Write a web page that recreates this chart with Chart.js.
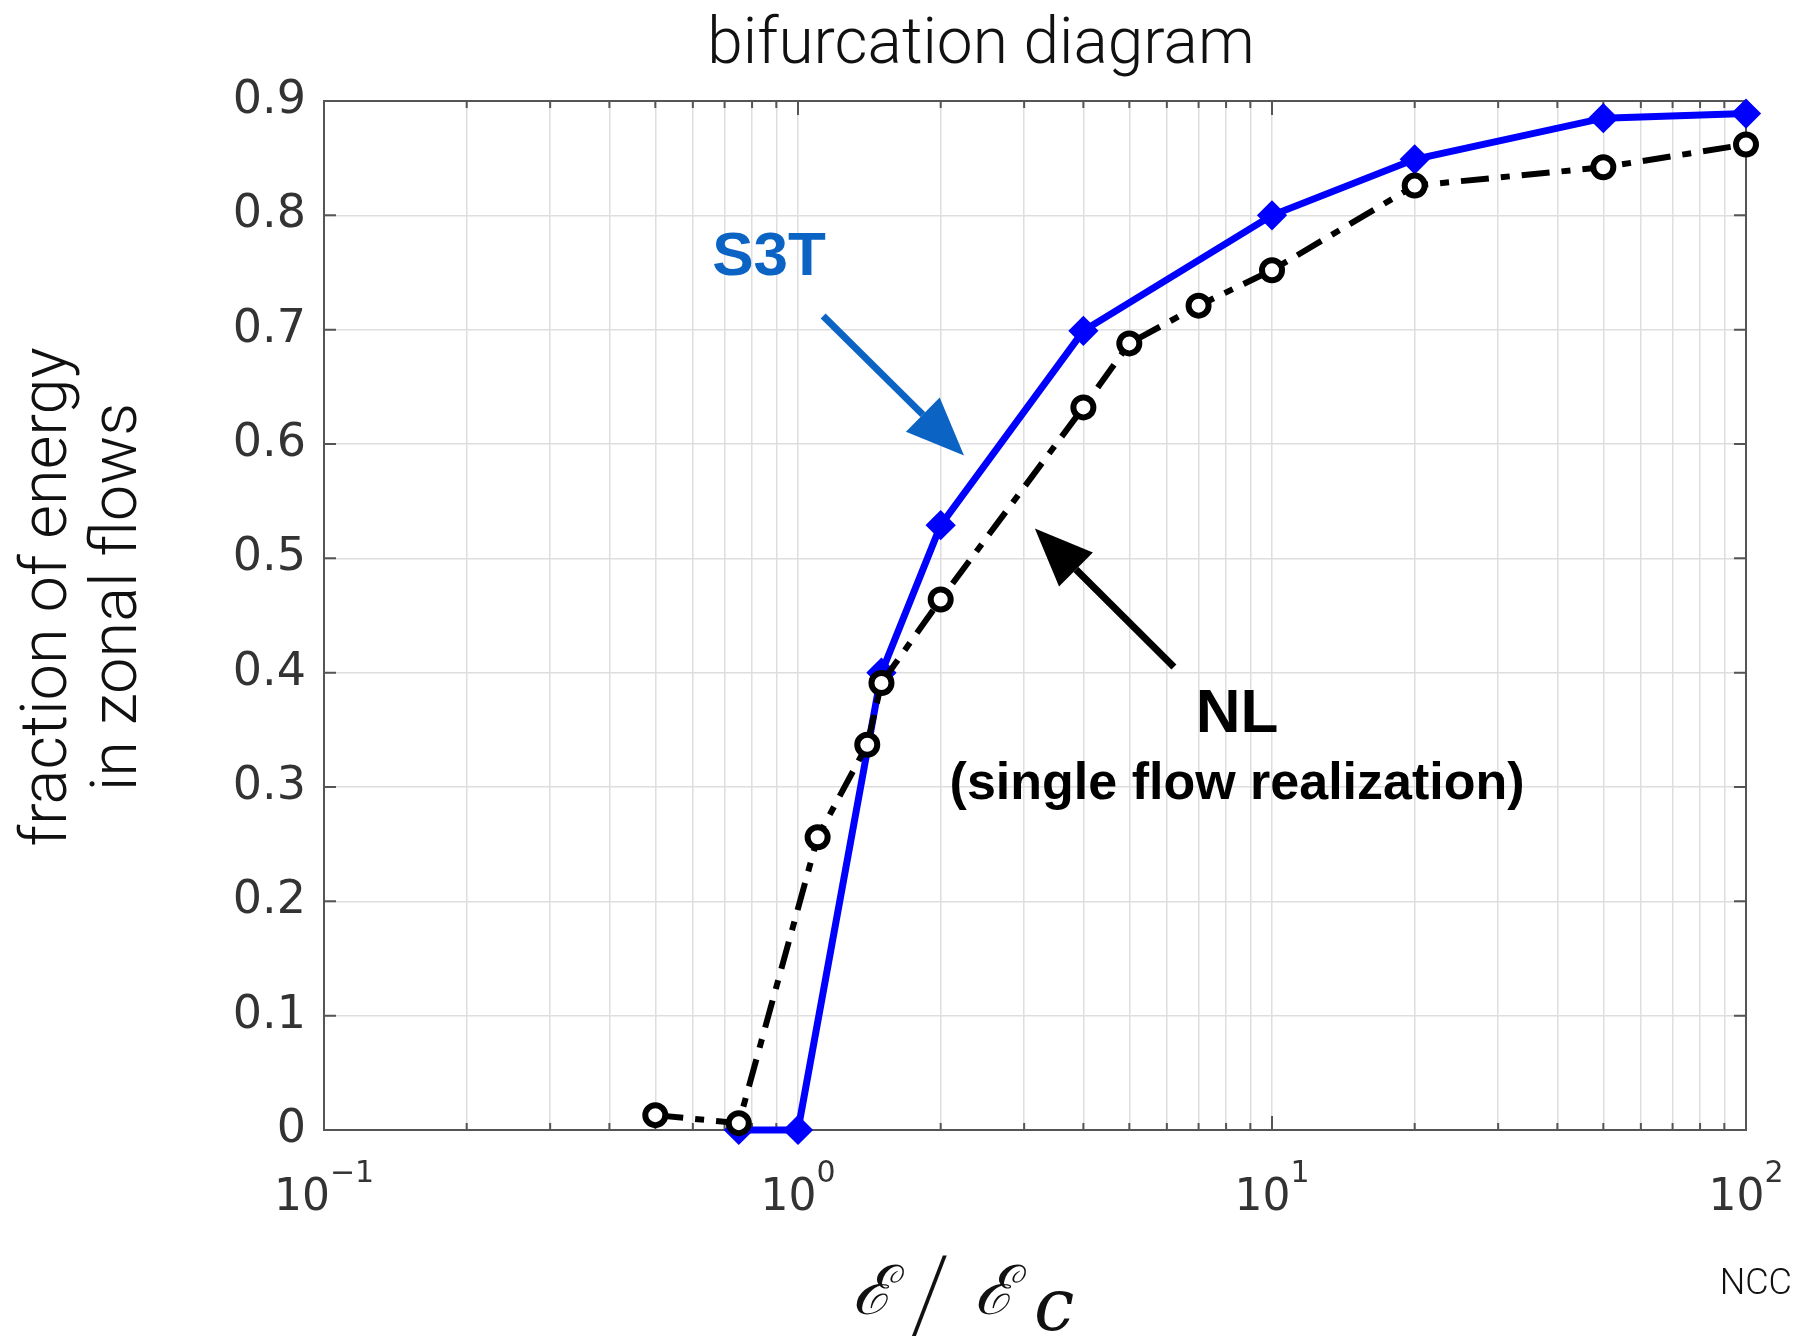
<!DOCTYPE html>
<html>
<head>
<meta charset="utf-8">
<script src="https://cdn.jsdelivr.net/npm/chart.js@4.4.1/dist/chart.umd.min.js"></script>
<style>
  html, body { margin: 0; padding: 0; background: #fff; }
  #wrap { width: 1793px; height: 1336px; }
</style>
</head>
<body>
<div id="wrap"><canvas id="chart" width="1793" height="1336"></canvas></div>
<script>
// ── Data ───────────────────────────────────────────────────────────────────
const S3T_X = [0.75, 1, 1.5, 2, 4, 10, 20, 50, 100];
const S3T_Y = [0, 0, 0.400, 0.529, 0.699, 0.800, 0.849, 0.885, 0.889];

const NL_X = [0.5, 0.75, 1.1, 1.4, 1.5, 2, 4, 5, 7, 10, 20, 50, 100];
const NL_Y = [0.013, 0.006, 0.256, 0.337, 0.391, 0.464, 0.632, 0.688, 0.721, 0.752, 0.826, 0.842, 0.862];

// axis ranges and ticks
const X_MIN = 0.1, X_MAX = 100;
const X_DECADES = [-1, 0, 1, 2];           // labelled as 10^n
const Y_TICKS = [0, 0.1, 0.2, 0.3, 0.4, 0.5, 0.6, 0.7, 0.8, 0.9];
const Y_TICK_LABELS = ["0", "0.1", "0.2", "0.3", "0.4", "0.5", "0.6", "0.7", "0.8", "0.9"];

// ── Styles ─────────────────────────────────────────────────────────────────
const AXIS_CLR  = "#555555";
const GRID_CLR  = "#dedede";
const TEXT_CLR  = "#333333";
const S3T_CLR   = "#0000ff";
const NOTE_BLUE = "#0b63c4";

// minor + major log grid positions (1..9 x 10^n)
function logGridValues() {
  const vals = [];
  for (let e = -1; e < 2; e++) {
    for (let m = 1; m < 10; m++) vals.push(m * Math.pow(10, e));
  }
  vals.push(X_MAX);
  return vals;
}

const toPoints = (xs, ys) => xs.map((x, i) => ({ x, y: ys[i] }));

// ── Frame plugin: box, inward ticks, tick labels, notes ───────────────────
const framePlugin = {
  id: "frame",
  beforeDatasetsDraw(chart) {
    const { ctx, chartArea: a, scales: { x, y } } = chart;
    ctx.save();
    ctx.strokeStyle = AXIS_CLR;
    ctx.lineWidth = 2;
    ctx.beginPath();
    // y ticks on left and right
    Y_TICKS.forEach(v => {
      const py = y.getPixelForValue(v);
      ctx.moveTo(a.left, py);  ctx.lineTo(a.left + 12, py);
      ctx.moveTo(a.right, py); ctx.lineTo(a.right - 12, py);
    });
    // x ticks on bottom and top
    logGridValues().forEach(v => {
      const px = x.getPixelForValue(v);
      const major = Math.abs(Math.log10(v) - Math.round(Math.log10(v))) < 1e-9;
      const len = major ? 14 : 7;
      ctx.moveTo(px, a.bottom); ctx.lineTo(px, a.bottom - len);
      ctx.moveTo(px, a.top);    ctx.lineTo(px, a.top + len);
    });
    ctx.stroke();
    ctx.strokeRect(a.left, a.top, a.right - a.left, a.bottom - a.top);
    ctx.restore();
  },
  afterDraw(chart) {
    const { ctx, chartArea: a, scales: { x, y } } = chart;
    ctx.save();
    ctx.fillStyle = TEXT_CLR;

    // y tick labels
    ctx.font = "46px 'DejaVu Sans'";
    ctx.textAlign = "right";
    ctx.textBaseline = "middle";
    Y_TICKS.forEach((v, i) => {
      ctx.fillText(Y_TICK_LABELS[i], a.left - 18, y.getPixelForValue(v));
    });

    // x tick labels 10^n with superscript
    ctx.textBaseline = "alphabetic";
    ctx.textAlign = "left";
    X_DECADES.forEach(e => {
      const px = x.getPixelForValue(Math.pow(10, e));
      const base = "10", sup = e < 0 ? "\u2212" + Math.abs(e) : String(e);
      ctx.font = "44px 'DejaVu Sans'";
      const wb = ctx.measureText(base).width;
      ctx.font = "30px 'DejaVu Sans'";
      const ws = ctx.measureText(sup).width;
      const x0 = px - (wb + ws) / 2;
      ctx.font = "44px 'DejaVu Sans'";
      ctx.fillText(base, x0, a.bottom + 80);
      ctx.font = "30px 'DejaVu Sans'";
      ctx.fillText(sup, x0 + wb, a.bottom + 52);
    });

    // title
    ctx.fillStyle = "#111";
    ctx.textAlign = "center";
    ctx.textBaseline = "middle";
    ctx.font = "300 64px Roboto";
    ctx.fillText("bifurcation diagram", 981, 47);

    // y axis label (two lines, rotated)
    ctx.save();
    ctx.translate(0, 597);
    ctx.rotate(-Math.PI / 2);
    ctx.font = "300 65px Roboto";
    ctx.fillText("fraction of energy", 0, 50);
    ctx.fillText("in zonal flows", 0, 120);
    ctx.restore();

    // x axis label  ℰ / ℰc
    ctx.textAlign = "left";
    ctx.textBaseline = "alphabetic";
    ctx.font = "italic 68px 'DejaVu Serif'";
    ctx.fillText("\u2130", 852, 1314);
    ctx.font = "200 104px Roboto";
    ctx.fillText("/", 910, 1330);
    ctx.font = "italic 68px 'DejaVu Serif'";
    ctx.fillText("\u2130", 974, 1314);
    ctx.font = "italic 72px 'DejaVu Serif'";
    ctx.fillText("c", 1034, 1330);

    // NCC
    ctx.textAlign = "right";
    ctx.font = "300 36px Roboto";
    ctx.fillText("NCC", 1792, 1294);

    // annotations
    const P = (vx, vy) => [x.getPixelForValue(vx), y.getPixelForValue(vy)];
    const arrow = (from, to, color) => {
      const [x1, y1] = P(...from), [x2, y2] = P(...to);
      const ang = Math.atan2(y2 - y1, x2 - x1);
      const hl = 58, hw = 24;
      const bx = x2 - hl * Math.cos(ang), by = y2 - hl * Math.sin(ang);
      ctx.strokeStyle = color; ctx.fillStyle = color;
      ctx.lineWidth = 7;
      ctx.beginPath(); ctx.moveTo(x1, y1); ctx.lineTo(bx, by); ctx.stroke();
      ctx.beginPath();
      ctx.moveTo(x2, y2);
      ctx.lineTo(bx + hw * Math.sin(ang), by - hw * Math.cos(ang));
      ctx.lineTo(bx - hw * Math.sin(ang), by + hw * Math.cos(ang));
      ctx.closePath(); ctx.fill();
    };
    arrow([1.13, 0.712], [2.24, 0.590], NOTE_BLUE);
    arrow([6.21, 0.405], [3.16, 0.526], "#000");

    ctx.textAlign = "center";
    ctx.textBaseline = "middle";
    ctx.fillStyle = NOTE_BLUE;
    ctx.font = "bold 62px 'Liberation Sans'";
    ctx.fillText("S3T", ...P(0.869, 0.763));
    ctx.fillStyle = "#000";
    ctx.fillText("NL", ...P(8.44, 0.363));
    ctx.font = "bold 52px 'Liberation Sans'";
    ctx.fillText("(single flow realization)", ...P(8.44, 0.302));
    ctx.restore();
  }
};

// ── Chart ──────────────────────────────────────────────────────────────────
new Chart(document.getElementById("chart"), {
  type: "line",
  data: {
    datasets: [
      {
        label: "NL",
        data: toPoints(NL_X, NL_Y),
        order: 0,
        borderColor: "#000",
        borderWidth: 6,
        borderDash: [28, 12, 9, 12],
        pointStyle: "circle",
        pointRadius: 10,
        pointBorderWidth: 6,
        pointBackgroundColor: "#fff",
        pointBorderColor: "#000",
        tension: 0,
        clip: false,
      },
      {
        label: "S3T",
        data: toPoints(S3T_X, S3T_Y),
        order: 1,
        borderColor: S3T_CLR,
        borderWidth: 7,
        pointStyle: "rectRot",
        pointRadius: 13,
        pointBorderWidth: 3,
        pointBackgroundColor: S3T_CLR,
        pointBorderColor: S3T_CLR,
        tension: 0,
        clip: false,
      },
    ],
  },
  options: {
    responsive: false,
    animation: false,
    devicePixelRatio: 1,
    layout: { padding: { left: 324, right: 47, top: 101, bottom: 206 } },
    plugins: { legend: { display: false }, tooltip: { enabled: false } },
    scales: {
      x: {
        type: "logarithmic",
        min: X_MIN, max: X_MAX,
        ticks: { display: false },
        grid: { color: GRID_CLR, lineWidth: 1.5, drawTicks: false },
        border: { display: false },
        afterBuildTicks: s => { s.ticks = logGridValues().map(v => ({ value: v })); },
      },
      y: {
        type: "linear",
        min: 0, max: 0.9,
        ticks: { display: false },
        grid: { color: GRID_CLR, lineWidth: 1.5, drawTicks: false },
        border: { display: false },
        afterBuildTicks: s => { s.ticks = Y_TICKS.map(v => ({ value: v })); },
      },
    },
  },
  plugins: [framePlugin],
});
</script>
</body>
</html>
